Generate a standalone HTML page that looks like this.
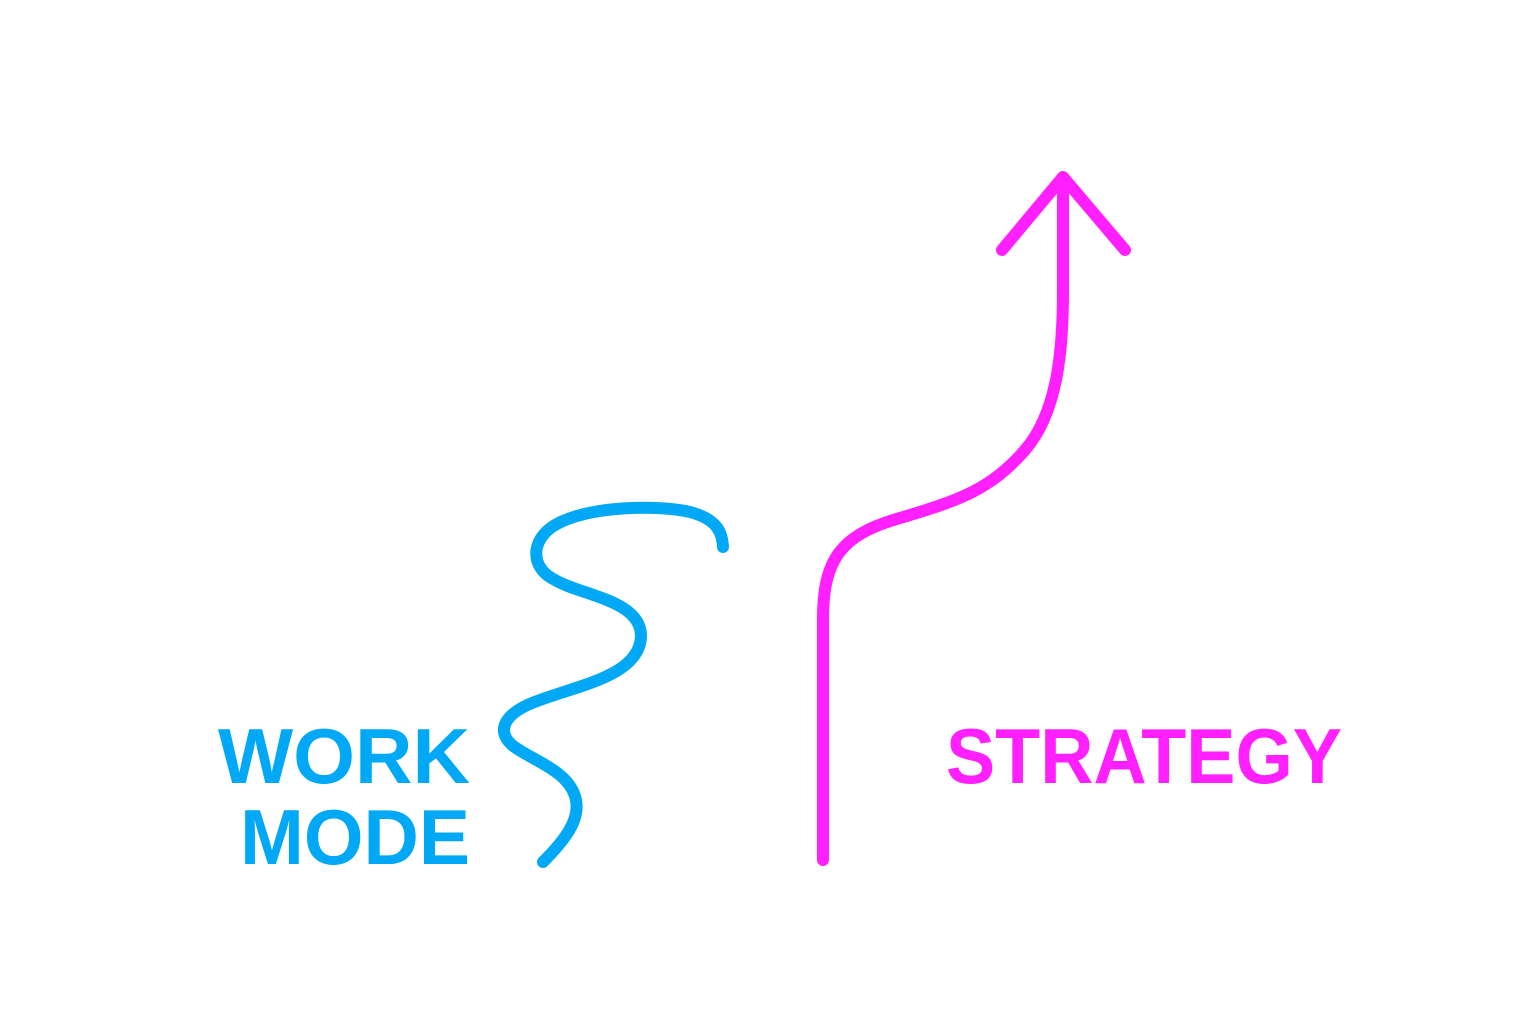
<!DOCTYPE html>
<html><head><meta charset="utf-8"><style>html,body{margin:0;padding:0;background:#fff}svg{display:block}</style></head>
<body>
<svg width="1536" height="1024" viewBox="0 0 1536 1024" xmlns="http://www.w3.org/2000/svg">
<rect width="1536" height="1024" fill="#fff"/>
<path d="M543,862 C565,840 580,820 576,800 C570,770 530,760 512,745 C495,730 505,712 540,700 C580,685 640,675 641,636 C641,600 580,595 555,580 C530,568 530,540 555,525 C590,505 660,505 690,512 C720,520 722,535 723,547" fill="none" stroke="#00A8F5" stroke-width="12" stroke-linecap="round" stroke-linejoin="round"/>
<path d="M823,860 L823,620 C823,560 840,535 900,518 C960,500 990,490 1025,450 C1060,410 1063,340 1063,290 L1063,180" fill="none" stroke="#FF1FFF" stroke-width="12" stroke-linecap="round" stroke-linejoin="round"/>
<path d="M1002,250 L1063,177 L1125,250" fill="none" stroke="#FF1FFF" stroke-width="12" stroke-linecap="round" stroke-linejoin="round"/>
<g font-family="Liberation Sans, sans-serif" font-weight="bold" font-size="78">
<text x="218" y="783" fill="#00A8F5" textLength="252" lengthAdjust="spacingAndGlyphs">WORK</text>
<text x="240" y="864" fill="#00A8F5" textLength="230" lengthAdjust="spacingAndGlyphs">MODE</text>
<text x="946" y="783" fill="#FF1FFF" textLength="396" lengthAdjust="spacingAndGlyphs">STRATEGY</text>
</g>
</svg>
</body></html>
